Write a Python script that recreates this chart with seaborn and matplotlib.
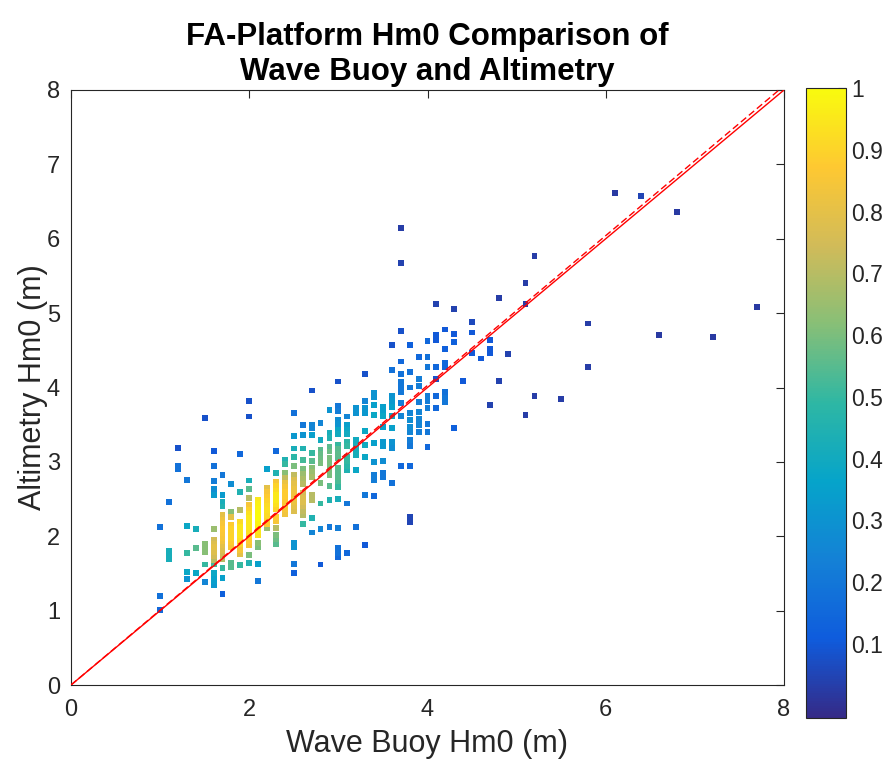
import numpy as np
import pandas as pd
import matplotlib
matplotlib.use("Agg")
import matplotlib.pyplot as plt
import seaborn as sns
from matplotlib.colors import LinearSegmentedColormap, Normalize
from matplotlib.cm import ScalarMappable

# ---------------- data ----------------
buoy_hm0 = [
    1.0, 1.0, 1.0,
    1.1, 1.1, 1.1, 1.1,
    1.2, 1.2, 1.2,
    1.3, 1.3, 1.3, 1.3, 1.3,
    1.4, 1.4, 1.4,
    1.5, 1.5, 1.5, 1.5, 1.5, 1.5,
    1.6, 1.6, 1.6, 1.6, 1.6, 1.6, 1.6, 1.6, 1.6, 1.6, 1.6, 1.6, 1.6, 1.6, 1.6, 1.6, 1.6,
    1.7, 1.7, 1.7, 1.7, 1.7, 1.7, 1.7, 1.7, 1.7, 1.7, 1.7, 1.7, 1.7, 1.7, 1.7, 1.7, 1.7, 1.7,
    1.8, 1.8, 1.8, 1.8, 1.8, 1.8, 1.8, 1.8, 1.8, 1.8, 1.8,
    1.9, 1.9, 1.9, 1.9, 1.9, 1.9, 1.9, 1.9, 1.9, 1.9, 1.9, 1.9,
    2.0, 2.0, 2.0, 2.0, 2.0, 2.0, 2.0, 2.0, 2.0, 2.0, 2.0, 2.0, 2.0, 2.0, 2.0, 2.0, 2.0,
    2.1, 2.1, 2.1, 2.1, 2.1, 2.1, 2.1, 2.1, 2.1, 2.1, 2.1, 2.1, 2.1,
    2.2, 2.2, 2.2, 2.2, 2.2, 2.2, 2.2, 2.2, 2.2, 2.2, 2.2,
    2.3, 2.3, 2.3, 2.3, 2.3, 2.3, 2.3, 2.3, 2.3, 2.3, 2.3, 2.3, 2.3, 2.3, 2.3,
    2.4, 2.4, 2.4, 2.4, 2.4, 2.4, 2.4, 2.4, 2.4, 2.4, 2.4, 2.4,
    2.5, 2.5, 2.5, 2.5, 2.5, 2.5, 2.5, 2.5, 2.5, 2.5, 2.5, 2.5, 2.5, 2.5, 2.5, 2.5, 2.5, 2.5,
    2.6, 2.6, 2.6, 2.6, 2.6, 2.6, 2.6, 2.6, 2.6, 2.6, 2.6, 2.6, 2.6, 2.6, 2.6,
    2.7, 2.7, 2.7, 2.7, 2.7, 2.7, 2.7, 2.7, 2.7, 2.7, 2.7, 2.7, 2.7,
    2.8, 2.8, 2.8, 2.8, 2.8, 2.8, 2.8, 2.8, 2.8, 2.8,
    2.9, 2.9, 2.9, 2.9, 2.9, 2.9, 2.9, 2.9, 2.9, 2.9, 2.9, 2.9,
    3.0, 3.0, 3.0, 3.0, 3.0, 3.0, 3.0, 3.0, 3.0, 3.0, 3.0, 3.0, 3.0, 3.0, 3.0, 3.0, 3.0, 3.0, 3.0, 3.0, 3.0,
    3.1, 3.1, 3.1, 3.1, 3.1, 3.1, 3.1, 3.1, 3.1, 3.1, 3.1, 3.1,
    3.2, 3.2, 3.2, 3.2, 3.2, 3.2, 3.2, 3.2,
    3.3, 3.3, 3.3, 3.3, 3.3, 3.3, 3.3, 3.3, 3.3,
    3.4, 3.4, 3.4, 3.4, 3.4, 3.4, 3.4, 3.4, 3.4,
    3.5, 3.5, 3.5, 3.5, 3.5, 3.5, 3.5, 3.5, 3.5,
    3.6, 3.6, 3.6, 3.6, 3.6, 3.6, 3.6, 3.6, 3.6, 3.6,
    3.7, 3.7, 3.7, 3.7, 3.7, 3.7, 3.7, 3.7, 3.7, 3.7, 3.7,
    3.8, 3.8, 3.8, 3.8, 3.8, 3.8, 3.8, 3.8, 3.8, 3.8, 3.8, 3.8,
    3.9, 3.9, 3.9, 3.9, 3.9, 3.9, 3.9, 3.9,
    4.0, 4.0, 4.0, 4.0, 4.0, 4.0, 4.0, 4.0, 4.0,
    4.1, 4.1, 4.1, 4.1, 4.1, 4.1, 4.1,
    4.2, 4.2, 4.2, 4.2, 4.2, 4.2, 4.2,
    4.3, 4.3, 4.3, 4.3,
    4.4,
    4.5, 4.5, 4.5,
    4.6,
    4.7, 4.7, 4.7, 4.7,
    4.8, 4.8,
    4.9,
    5.1, 5.1, 5.1,
    5.2, 5.2,
    5.5,
    5.8, 5.8,
    6.1, 6.4, 6.6, 6.8, 7.2, 7.7,
]

alt_hm0 = [
    2.13, 1.20, 1.01,
    2.46, 1.80, 1.75, 1.70,
    3.19, 2.95, 2.90,
    2.76, 2.14, 1.78, 1.52, 1.42,
    2.10, 1.84, 1.50,
    3.59, 1.90, 1.85, 1.79, 1.62, 1.38,
    3.15, 2.94, 2.74, 2.64, 2.55, 2.10, 1.95, 1.90, 1.85, 1.79, 1.73, 1.68, 1.62, 1.50, 1.45, 1.40, 1.35,
    2.82, 2.56, 2.46, 2.40, 2.28, 2.22, 2.16, 2.10, 2.04, 1.98, 1.93, 1.88, 1.82, 1.76, 1.70, 1.57, 1.44, 1.22,
    2.70, 2.33, 2.26, 2.15, 2.10, 2.04, 1.98, 1.92, 1.86, 1.64, 1.58,
    3.11, 2.60, 2.35, 2.19, 2.13, 2.07, 2.01, 1.95, 1.89, 1.82, 1.76, 1.61,
    3.82, 3.61, 2.75, 2.63, 2.51, 2.42, 2.36, 2.30, 2.24, 2.18, 2.12, 2.06, 2.00, 1.94, 1.88, 1.75, 1.64,
    2.49, 2.43, 2.37, 2.31, 2.25, 2.19, 2.13, 2.07, 2.01, 1.91, 1.85, 1.63, 1.40,
    2.90, 2.65, 2.59, 2.53, 2.47, 2.41, 2.35, 2.29, 2.23, 2.17, 2.11,
    3.15, 2.85, 2.73, 2.67, 2.61, 2.55, 2.49, 2.43, 2.37, 2.26, 2.20, 2.11, 2.02, 1.96, 1.90,
    3.02, 2.97, 2.85, 2.78, 2.72, 2.66, 2.60, 2.54, 2.48, 2.42, 2.36, 2.30,
    3.66, 3.35, 3.18, 3.07, 2.95, 2.83, 2.76, 2.70, 2.64, 2.58, 2.52, 2.46, 2.40, 2.34, 1.91, 1.85, 1.63, 1.51,
    3.50, 3.36, 3.18, 3.03, 2.91, 2.84, 2.77, 2.70, 2.58, 2.52, 2.46, 2.40, 2.34, 2.28, 2.17,
    3.96, 3.50, 3.45, 3.36, 3.12, 3.01, 2.92, 2.86, 2.80, 2.55, 2.49, 2.24, 2.05,
    3.52, 3.29, 3.16, 3.10, 3.04, 2.98, 2.71, 2.44, 2.10, 1.62,
    3.70, 3.39, 3.32, 3.20, 3.14, 3.05, 2.98, 2.90, 2.82, 2.68, 2.49, 2.13,
    4.08, 3.75, 3.69, 3.57, 3.51, 3.43, 3.37, 3.23, 3.17, 3.11, 3.05, 2.92, 2.86, 2.80, 2.74, 2.66, 2.50, 2.11, 1.84, 1.78, 1.72,
    3.61, 3.49, 3.43, 3.38, 3.27, 3.21, 3.07, 3.01, 2.95, 2.89, 2.44, 1.77,
    3.72, 3.66, 3.30, 3.21, 3.15, 3.09, 2.89, 2.13,
    4.18, 3.82, 3.73, 3.66, 3.42, 3.23, 3.06, 2.55, 1.88,
    3.93, 3.87, 3.76, 3.63, 3.25, 3.00, 2.82, 2.76, 2.54,
    3.74, 3.68, 3.62, 3.47, 3.27, 3.21, 3.01, 2.85, 2.79,
    4.57, 4.23, 3.88, 3.82, 3.74, 3.62, 3.45, 3.27, 3.19, 2.71,
    6.14, 5.67, 4.76, 4.35, 4.18, 4.07, 4.00, 3.94, 3.79, 3.62, 2.94,
    4.57, 4.21, 4.00, 3.66, 3.56, 3.47, 3.40, 3.30, 3.21, 2.95, 2.26, 2.19,
    4.41, 4.11, 4.02, 3.80, 3.67, 3.58, 3.49, 3.40,
    4.62, 4.41, 4.27, 3.88, 3.82, 3.73, 3.51, 3.40, 3.20,
    5.12, 4.70, 4.64, 4.27, 4.12, 3.88, 3.73,
    4.78, 4.52, 4.33, 4.27, 3.94, 3.86, 3.81,
    5.05, 4.72, 4.61, 3.45,
    4.09,
    4.88, 4.74, 4.46,
    4.39,
    4.64, 4.52, 4.46, 3.76,
    5.20, 4.09,
    4.45,
    5.40, 5.12, 3.63,
    5.77, 3.88,
    3.85,
    4.86, 4.28,
    6.62, 6.58, 4.71, 6.36, 4.68, 5.08,
]

density = [
    .18, .18, .15,
    .18, .42, .42, .42,
    .08, .18, .18,
    .20, .38, .50, .38, .30,
    .42, .55, .38,
    .08, .62, .62, .62, .50, .25,
    .10, .18, .22, .28, .33, .65, .75, .78, .80, .78, .75, .70, .52, .38, .36, .34, .32,
    .20, .33, .42, .45, .80, .83, .85, .87, .86, .85, .83, .80, .78, .75, .70, .50, .35, .12,
    .28, .62, .80, .88, .90, .90, .90, .88, .85, .55, .55,
    .15, .45, .70, .92, .95, .95, .95, .93, .90, .85, .80, .50,
    .08, .08, .42, .55, .70, .85, .90, .93, .95, .95, .95, .93, .90, .88, .85, .60, .45,
    .95, .97, .98, 1.0, 1.0, .98, .97, .95, .93, .62, .60, .35, .20,
    .35, .80, .85, .88, .90, .92, .93, .92, .90, .88, .65,
    .15, .45, .85, .90, .92, .95, .95, .93, .90, .88, .85, .70, .60, .58, .55,
    .45, .50, .62, .72, .82, .85, .88, .88, .87, .86, .85, .83,
    .18, .32, .42, .48, .60, .72, .78, .80, .82, .83, .83, .82, .80, .78, .30, .30, .20, .12,
    .20, .30, .45, .52, .60, .65, .68, .70, .75, .78, .78, .75, .72, .70, .50,
    .08, .25, .25, .35, .50, .55, .62, .65, .67, .70, .70, .45, .25,
    .25, .40, .55, .57, .58, .60, .60, .50, .25, .10,
    .30, .42, .45, .55, .58, .60, .60, .60, .60, .55, .45, .20,
    .08, .20, .22, .28, .30, .38, .40, .50, .55, .56, .55, .55, .55, .55, .53, .50, .42, .22, .18, .18, .15,
    .25, .35, .38, .40, .48, .50, .50, .50, .48, .45, .20, .15,
    .30, .30, .40, .42, .42, .42, .38, .18,
    .08, .25, .30, .32, .38, .40, .38, .20, .10,
    .30, .30, .35, .38, .35, .30, .22, .22, .15,
    .35, .35, .38, .35, .32, .32, .28, .20, .20,
    .08, .18, .30, .32, .35, .38, .35, .30, .28, .18,
    .03, .04, .08, .15, .18, .20, .20, .20, .22, .25, .15,
    .12, .18, .20, .25, .28, .28, .25, .22, .20, .15, .05, .05,
    .15, .22, .22, .22, .25, .25, .25, .22,
    .15, .18, .20, .22, .22, .22, .20, .20, .15,
    .04, .10, .10, .15, .08, .15, .15,
    .10, .12, .15, .15, .18, .20, .20,
    .04, .10, .12, .12,
    .10,
    .06, .10, .10,
    .10,
    .10, .10, .10, .04,
    .03, .04,
    .04,
    .03, .03, .03,
    .03, .03,
    .03,
    .03, .03,
    .02, .05, .02, .02, .02, .02,
]

# reference lines
one_to_one = [0.0, 8.0]
fit_slope = 1.007
fit_intercept = 0.0

cbar_ticks = [0.1, 0.2, 0.3, 0.4, 0.5, 0.6, 0.7, 0.8, 0.9, 1.0]
cbar_labels = ["0.1", "0.2", "0.3", "0.4", "0.5", "0.6", "0.7", "0.8", "0.9", "1"]
axis_ticks = [0, 2, 4, 6, 8]
yaxis_ticks = [0, 1, 2, 3, 4, 5, 6, 7, 8]

# ---------------- style ----------------
sns.set_theme(style="white")
plt.rcParams["font.family"] = ["Liberation Sans", "DejaVu Sans"]
text_col = "#262626"

parula = LinearSegmentedColormap.from_list(
    "parula",
    ["#352a87", "#0f5cdd", "#1481d6", "#06a4ca", "#2eb7a4",
     "#87bf77", "#d1bb59", "#fec832", "#f9fb0e"],
)
vmin, vmax = -0.02, 1.0
norm = Normalize(vmin=vmin, vmax=vmax)

df = pd.DataFrame({"buoy": buoy_hm0, "alt": alt_hm0, "dens": density})
df = df.sort_values("dens")

fig = plt.figure(figsize=(8.91, 7.67), dpi=100)
W, H = 891, 767
ax = fig.add_axes([71 / W, 1 - 685 / H, 713 / W, 595 / H])

sns.scatterplot(data=df, x="buoy", y="alt", hue="dens", palette=parula,
                hue_norm=norm, marker="s", s=18, linewidth=0,
                legend=False, ax=ax, zorder=3)

xs = np.array(one_to_one)
ax.plot(xs, xs, color="#ff0000", lw=1.0, zorder=4)
ax.plot(xs, fit_slope * xs + fit_intercept, color="#ff0000", lw=1.0,
        ls=(0, (5, 2.5)), zorder=4)

ax.set_xlim(0, 8)
ax.set_ylim(0, 8)
ax.set_xticks(axis_ticks)
ax.set_yticks(yaxis_ticks)
ax.tick_params(direction="in", length=6, width=0.8, colors=text_col,
               labelsize=17, top=True, right=True, pad=8)
ax.tick_params(axis="x", pad=10)
for sp in ax.spines.values():
    sp.set_color(text_col)
    sp.set_linewidth(0.8)
    sp.set_visible(True)

ax.set_xlabel("Wave Buoy Hm0 (m)", fontsize=22, color=text_col, labelpad=6)
ax.set_ylabel("Altimetry Hm0 (m)", fontsize=22, color=text_col, labelpad=-1)
ax.set_title("FA-Platform Hm0 Comparison of\nWave Buoy and Altimetry",
             fontsize=22.5, fontweight="bold", color="black", pad=7,
             linespacing=1.25)

# colorbar
cax = fig.add_axes([806 / W, 1 - 718 / H, 40 / W, 630 / H])
sm = ScalarMappable(norm=norm, cmap=parula)
cb = fig.colorbar(sm, cax=cax)
cb.set_ticks(cbar_ticks)
cb.set_ticklabels(cbar_labels)
cb.ax.tick_params(direction="in", length=6, width=0.8, colors=text_col,
                  labelsize=16.5, pad=4)
cb.outline.set_edgecolor(text_col)
cb.outline.set_linewidth(0.8)

fig.savefig("out.png", dpi=100, facecolor="white")
